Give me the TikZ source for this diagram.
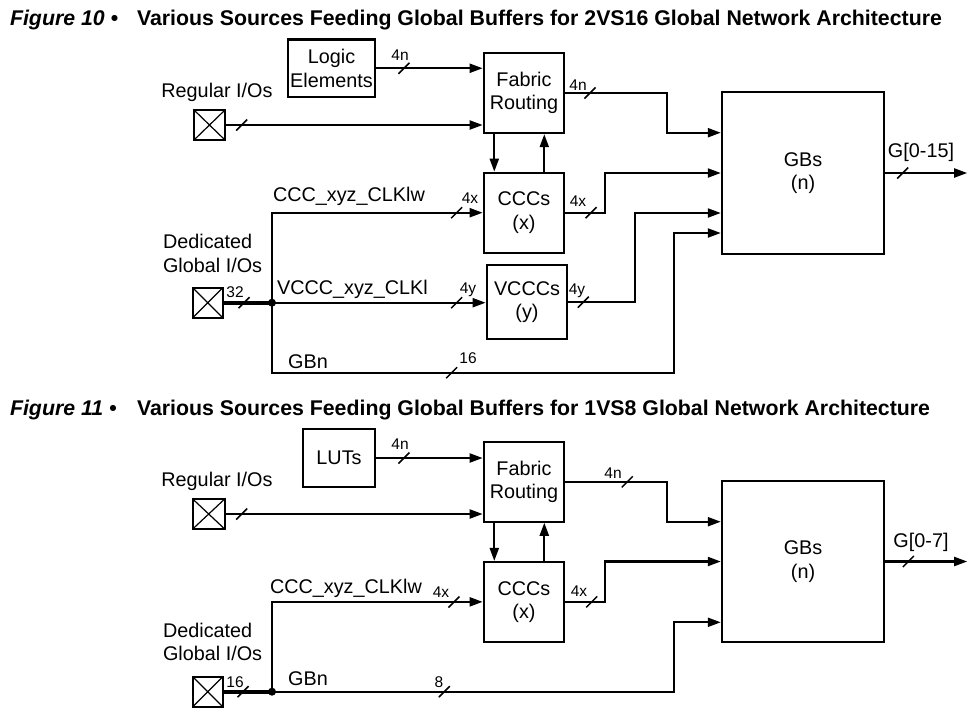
\documentclass[tikz,border=0pt]{standalone}
\usepackage{fontspec}
\setmainfont{Liberation Sans}
\usetikzlibrary{arrows.meta,calc}
\tikzset{
  blk/.style={draw, line width=2.1pt, inner sep=0pt, align=center,
    font=\fontsize{19.8}{23.4}\selectfont},
  iobox/.style={draw, line width=2.1pt, inner sep=0pt, minimum width=31pt, minimum height=30pt,
    path picture={\draw[line width=1.2pt] (path picture bounding box.south west) -- (path picture bounding box.north east)
      (path picture bounding box.north west) -- (path picture bounding box.south east);}},
  conn/.style={line width=2.1pt},
  arr/.style={conn, -{Triangle[length=13pt,width=9pt]}},
  lbl/.style={inner sep=0pt, font=\fontsize{15.5}{18}\selectfont},
  txt/.style={inner sep=0pt, font=\fontsize{19.8}{23.4}\selectfont},
  ttl/.style={inner sep=0pt, anchor=base west, font=\bfseries\fontsize{21.3}{24}\selectfont},
  ttli/.style={inner sep=0pt, anchor=base west, font=\bfseries\itshape\fontsize{21.3}{24}\selectfont},
  busmark/.pic={\draw[line width=1.5pt] (-5.5,5.5) -- (5.5,-5.5);},
  bus/.style={line width=4pt}
}
\begin{document}
\begin{tikzpicture}[x=1pt,y=-1pt,line width=2.1pt]
\useasboundingbox (0,0) rectangle (975,716);

% ---------------- Figure 10 ----------------
\node[ttli] (t10a) at (9,25) {Figure 10 •};
\node[ttl] (t10b) at (136,25) {Various Sources Feeding Global Buffers for 2VS16 Global Network Architecture};

\node[blk, minimum width=87pt, minimum height=57.5pt] (LE) at (331.5,68.25) {Logic\\Elements};
\node[blk, minimum width=80.6pt, minimum height=80.3pt] (FR1) at (524,93) {Fabric\\Routing};
\node[blk, minimum width=80.6pt, minimum height=80pt] (CCC1) at (524,212.7) {CCCs\\(x)};
\node[blk, minimum width=80.6pt, minimum height=74.3pt] (VCCC1) at (527,302.2) {VCCCs\\(y)};
\node[blk, minimum width=162.3pt, minimum height=161.7pt] (GB1) at (803,173) {GBs\\(n)};
\node[iobox] (RIO1) at (209.5,125) {};
\node[iobox, minimum width=30pt] (DIO1) at (207.7,302.7) {};
\coordinate (J1) at (272,302.7);
\coordinate (g1) at (674,372.7);

\node[txt] (rl1) at (217,92) {Regular I/Os};
\node[txt, anchor=west, align=left] (dl1) at (162,253.5) {Dedicated\\Global I/Os};
\node[txt, anchor=west] (c1l) at (272,196) {CCC\_xyz\_CLKlw};
\node[txt, anchor=west] (v1l) at (276,289) {VCCC\_xyz\_CLKl};
\node[txt] (gbn1) at (308,362) {GBn};
\node[txt] (go1) at (921,152) {G[0-15]};

\node[lbl] (l4n1) at (400,55) {4n};
\node[lbl] (l4n1o) at (578,85) {4n};
\node[lbl] (l4x1) at (470,198) {4x};
\node[lbl] (l4x1o) at (578,201) {4x};
\node[lbl] (l321) at (235,292) {32};
\node[lbl] (l4y1) at (468,290) {4y};
\node[lbl] (l4y1o) at (577,291) {4y};
\node[lbl] (l161) at (468,358) {16};

\draw[arr] (LE) -- (LE -| FR1.west);
\draw[arr] (RIO1) -- (RIO1 -| FR1.west);
\draw[arr] ([xshift=-29.7pt]FR1.south) -- ([xshift=-29.7pt]CCC1.north);
\draw[arr] ([xshift=20.3pt]CCC1.north) -- ([xshift=20.3pt]FR1.south);
\draw[bus] (DIO1.east) -- (J1);
\draw[arr] (J1) |- (CCC1.west);
\draw[arr] (J1) -- (J1 -| VCCC1.west);
\draw[arr] (J1) |- (g1) |- ([yshift=-60pt]GB1.west);
\fill (J1) circle (4);
\draw[arr] (FR1.east) -- ++(102,0) |- ([yshift=40.3pt]GB1.west);
\draw[arr] (CCC1.east) -- ++(39.4,0) |- (GB1.west);
\draw[arr] (VCCC1.east) -- ++(66.4,0) |- ([yshift=-40pt]GB1.west);
\draw[arr] (GB1.east) -- ++(82,0);

\pic at (404,68.3) {busmark};
\pic at (241.7,125) {busmark};
\pic at (590,93) {busmark};
\pic at (456.7,212.7) {busmark};
\pic at (591,212.7) {busmark};
\pic at (244,302.7) {busmark};
\pic at (456.7,302.7) {busmark};
\pic at (583.3,302.2) {busmark};
\pic at (451.7,372.7) {busmark};
\pic at (902.7,173) {busmark};

% ---------------- Figure 11 ----------------
\node[ttli] (t11a) at (9,415) {Figure 11 •};
\node[ttl] (t11b) at (136,415) {Various Sources Feeding Global Buffers for 1VS8 Global Network Architecture};

\node[blk, minimum width=72.6pt, minimum height=58pt] (LUT) at (339,458) {LUTs};
\node[blk, minimum width=80.6pt, minimum height=79.7pt] (FR2) at (524,481.85) {Fabric\\Routing};
\node[blk, minimum width=80.6pt, minimum height=79.7pt] (CCC2) at (524,601.85) {CCCs\\(x)};
\node[blk, minimum width=162.3pt, minimum height=161.6pt] (GB2) at (803,561.5) {GBs\\(n)};
\node[iobox, minimum width=32pt] (RIO2) at (208.7,514) {};
\node[iobox, minimum width=30pt] (DIO2) at (207.8,691.7) {};
\coordinate (J2) at (272,691.7);
\coordinate (g2) at (674,691.7);

\node[txt] (rl2) at (217,481) {Regular I/Os};
\node[txt, anchor=west, align=left] (dl2) at (162,642) {Dedicated\\Global I/Os};
\node[txt, anchor=west] (c2l) at (269,588) {CCC\_xyz\_CLKlw};
\node[txt] (gbn2) at (308,679) {GBn};
\node[txt] (go2) at (921,542) {G[0-7]};

\node[lbl] (l4n2) at (400,444) {4n};
\node[lbl] (l4n2o) at (613,473) {4n};
\node[lbl] (l4x2) at (441,592) {4x};
\node[lbl] (l4x2o) at (579,591) {4x};
\node[lbl] (l162) at (235,682) {16};
\node[lbl] (l82) at (439,682) {8};

\draw[arr] (LUT) -- (LUT -| FR2.west);
\draw[arr] (RIO2) -- (RIO2 -| FR2.west);
\draw[arr] ([xshift=-29.7pt]FR2.south) -- ([xshift=-29.7pt]CCC2.north);
\draw[arr] ([xshift=20.3pt]CCC2.north) -- ([xshift=20.3pt]FR2.south);
\draw[bus] (DIO2.east) -- (J2);
\draw[arr] (J2) |- (CCC2.west);
\draw[arr] (J2) -- (g2) |- ([yshift=-60.8pt]GB2.west);
\fill (J2) circle (4);
\draw[arr] (FR2.east) -- ++(102,0) |- ([yshift=39.8pt]GB2.west);
\draw[arr] (CCC2.east) -- ++(39.4,0) |- (GB2.west);
\draw[arr] (GB2.east) -- ++(82,0);

\pic at (404,458) {busmark};
\pic at (241.7,514) {busmark};
\pic at (454,602) {busmark};
\pic at (243,691.7) {busmark};
\pic at (444.3,691.7) {busmark};
\pic at (627.3,481.85) {busmark};
\pic at (591.7,601.85) {busmark};
\pic at (908.3,561.5) {busmark};
\end{tikzpicture}
\end{document}
